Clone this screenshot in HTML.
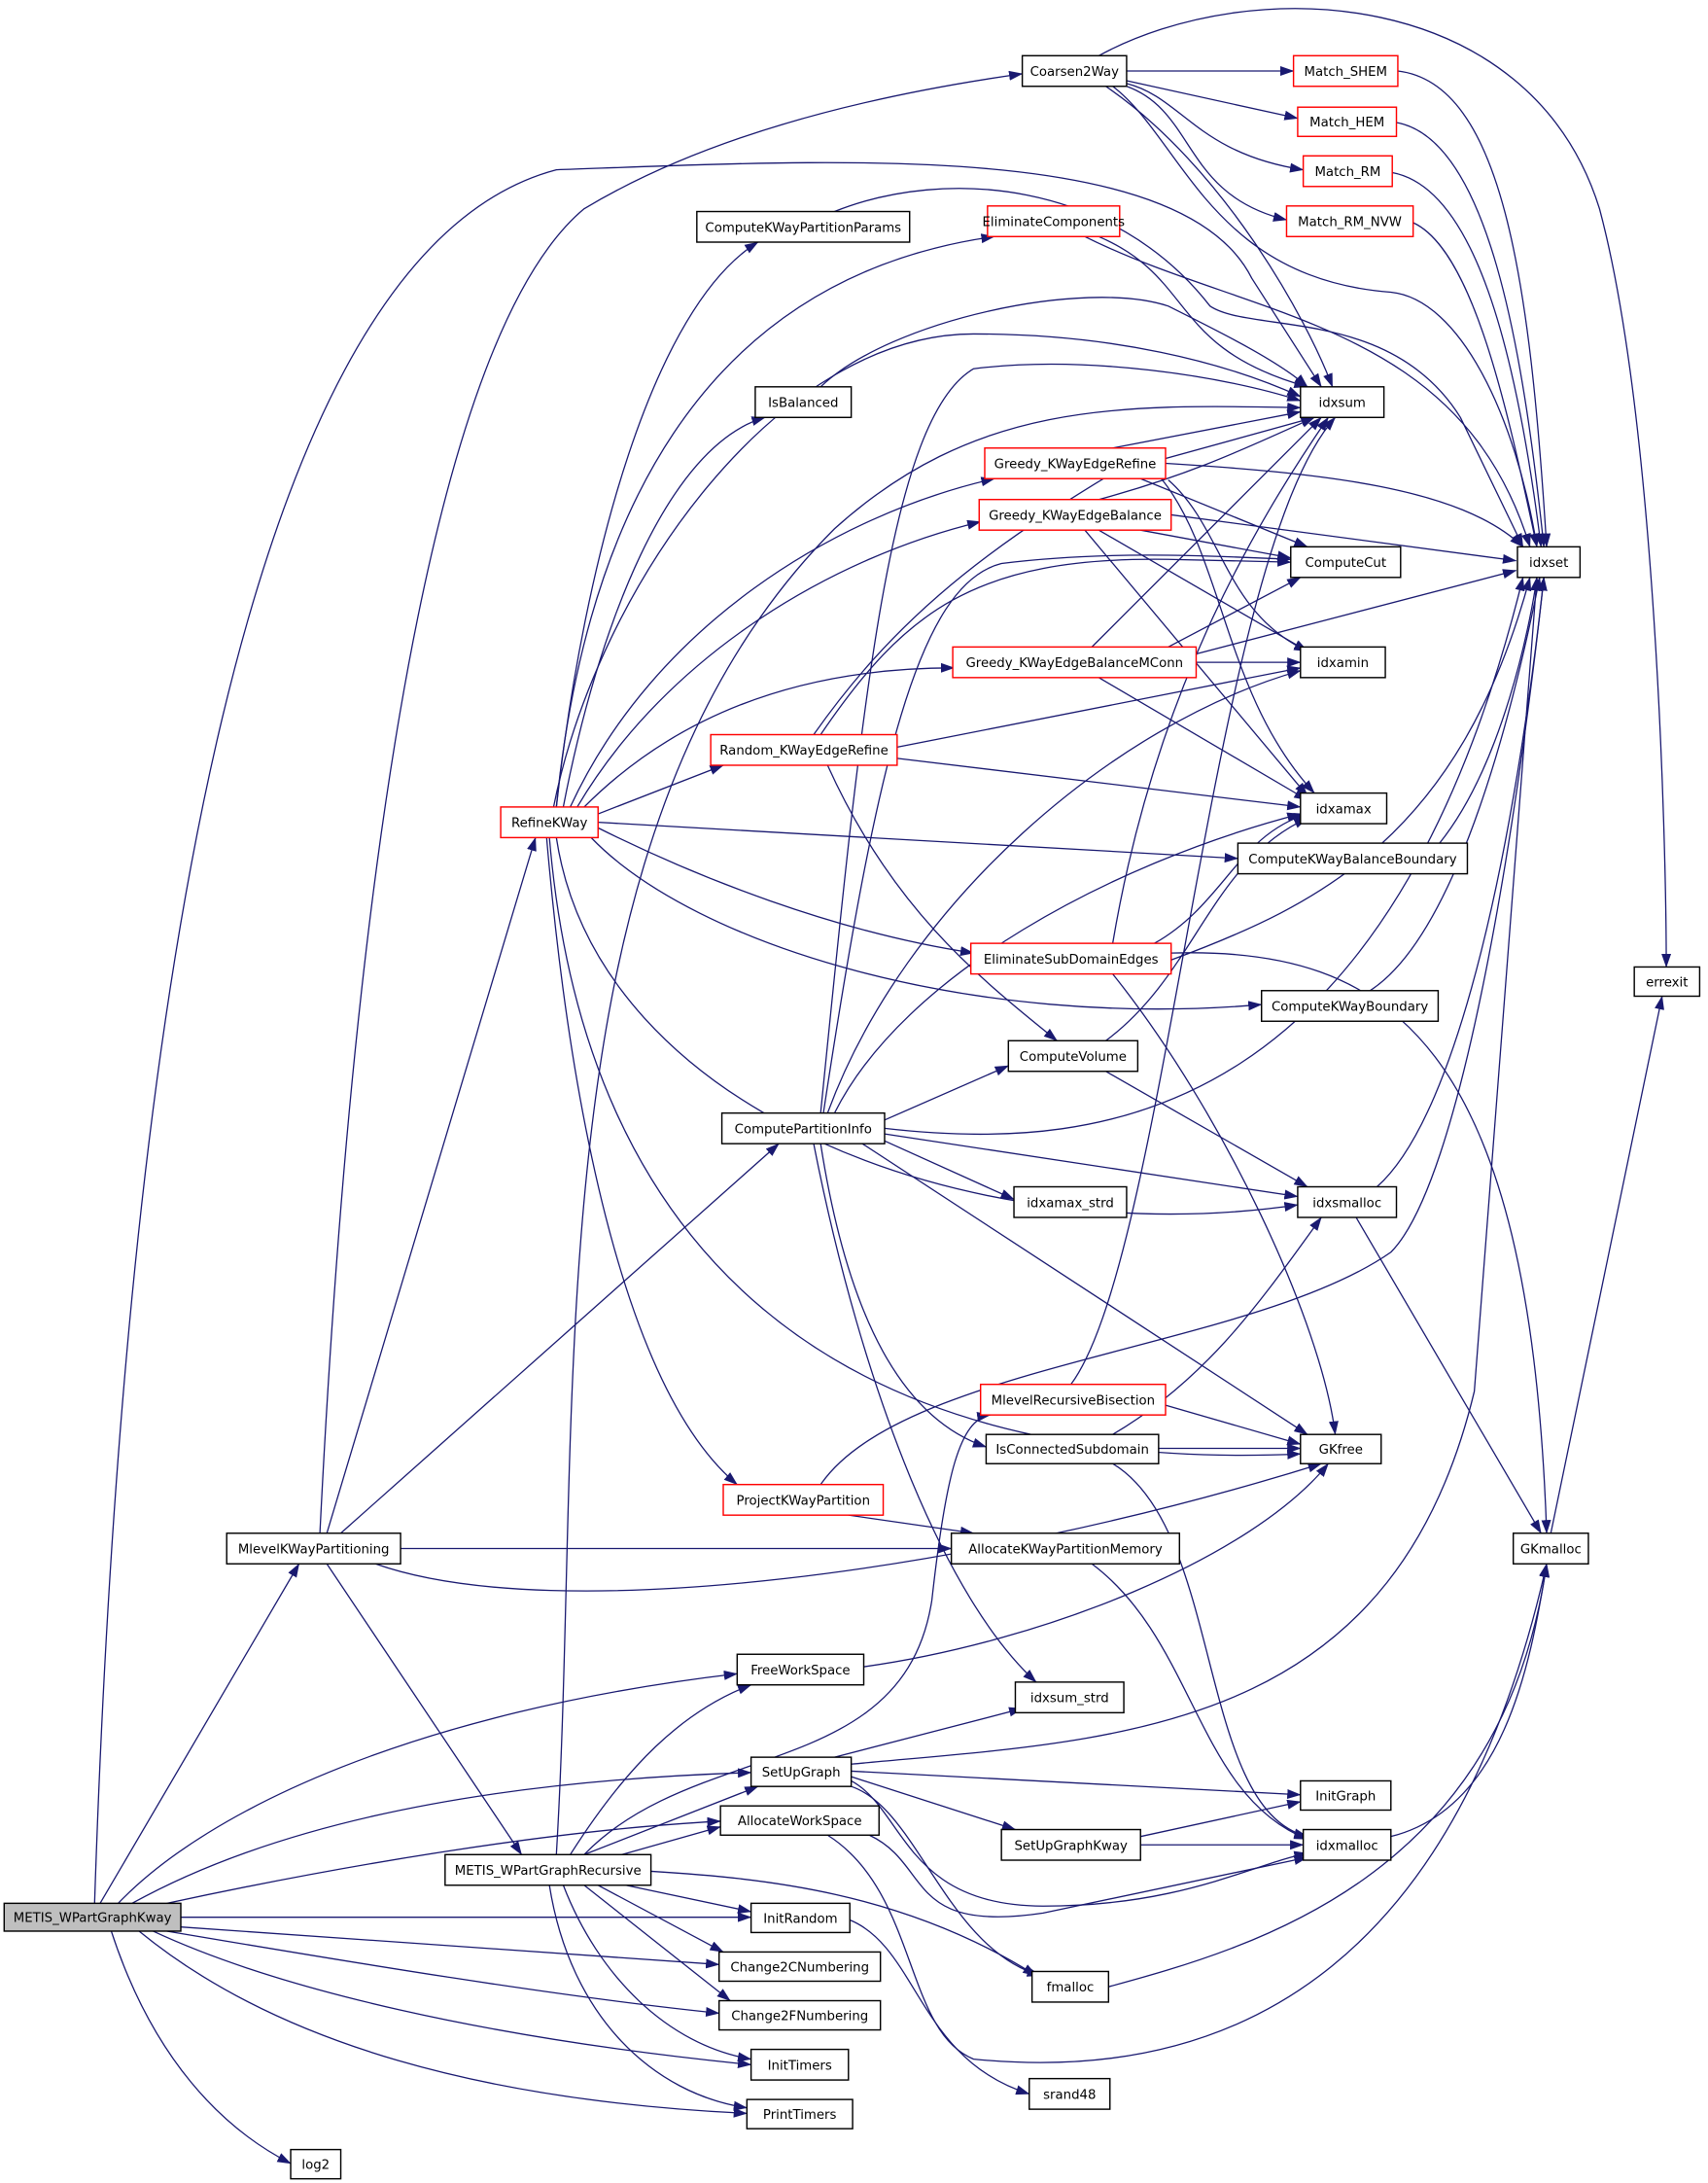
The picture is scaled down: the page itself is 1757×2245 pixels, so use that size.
<!DOCTYPE html>
<html><head><meta charset="utf-8"><style>
html,body{margin:0;padding:0;background:#fff;}
svg{display:block;}
text{font-family:"DejaVu Sans","Liberation Sans",sans-serif;font-size:9.3px;text-anchor:middle;fill:#000;}
.e{fill:none;stroke:#191970;stroke-width:0.9;marker-end:url(#a);}
.b{fill:#fff;stroke:#000;stroke-width:1;}
.r{fill:#fff;stroke:#ff0000;stroke-width:1;}
</style></head><body>
<svg width="1757" height="2245" viewBox="0 0 1228 1569" xmlns="http://www.w3.org/2000/svg">
<defs><marker id="a" markerUnits="userSpaceOnUse" markerWidth="10" markerHeight="8" refX="9.5" refY="3.5" orient="auto"><path d="M0,0 L10,3.5 L0,7 z" fill="#191970"/></marker></defs>
<g>
<path class="e" d="M68,1368 C90,700 180,180 400,122 C600,115 850,100 900,200 L950,278"/>
<path class="e" d="M230,1102 C250,700 300,250 420,150 C520,90 650,65 735,53"/>
<path class="e" d="M72,1368 L215,1124"/>
<path class="e" d="M85,1368 C150,1300 300,1230 530,1203"/>
<path class="e" d="M95,1368 C200,1310 350,1280 540,1274"/>
<path class="e" d="M120,1368 C250,1340 400,1315 518,1309"/>
<path class="e" d="M130,1378 L540,1378"/>
<path class="e" d="M130,1385 L517,1412"/>
<path class="e" d="M120,1388 C250,1410 400,1435 517,1447"/>
<path class="e" d="M110,1388 C200,1430 350,1465 540,1484"/>
<path class="e" d="M100,1388 C200,1470 350,1510 537,1519"/>
<path class="e" d="M80,1388 C110,1480 160,1530 209,1555"/>
<path class="e" d="M235,1102 L385,602"/>
<path class="e" d="M245,1102 L560,822"/>
<path class="e" d="M288,1113 L684,1113"/>
<path class="e" d="M270,1124 C400,1170 700,1130 950,1052"/>
<path class="e" d="M235,1124 L375,1333"/>
<path class="e" d="M400,580 C420,400 470,220 545,174"/>
<path class="e" d="M400,580 C420,380 500,200 715,170"/>
<path class="e" d="M405,580 C430,450 480,320 550,300"/>
<path class="e" d="M410,580 C470,450 600,370 715,344"/>
<path class="e" d="M415,580 C480,470 600,400 705,375"/>
<path class="e" d="M420,580 C500,500 600,480 686,480"/>
<path class="e" d="M430,585 L520,550"/>
<path class="e" d="M430,591 L890,617"/>
<path class="e" d="M430,595 C500,630 600,670 700,685"/>
<path class="e" d="M425,602 C500,680 700,740 907,722"/>
<path class="e" d="M400,602 C430,800 700,900 933,866"/>
<path class="e" d="M395,602 C420,900 600,1060 935,1045"/>
<path class="e" d="M393,602 C410,800 450,1000 530,1067"/>
<path class="e" d="M398,580 C430,420 560,240 700,240 C800,240 880,260 935,285"/>
<path class="e" d="M590,800 C620,500 640,300 700,265 C780,255 880,270 935,288"/>
<path class="e" d="M592,800 C630,550 660,420 720,405 C800,395 880,400 928,402"/>
<path class="e" d="M595,800 C650,650 800,520 935,482"/>
<path class="e" d="M600,800 C650,700 800,620 935,585"/>
<path class="e" d="M636,805 L725,766"/>
<path class="e" d="M636,811 C800,830 1000,800 1095,415"/>
<path class="e" d="M636,820 L729,862"/>
<path class="e" d="M636,815 L933,860"/>
<path class="e" d="M620,822 L940,1031"/>
<path class="e" d="M590,822 C610,950 650,1020 709,1040"/>
<path class="e" d="M585,822 C620,1000 680,1150 745,1209"/>
<path class="e" d="M400,1333 C420,1000 380,600 600,380 C700,290 800,290 935,293"/>
<path class="e" d="M420,1333 C500,1250 650,1280 670,1150 C680,1060 690,1020 712,1017"/>
<path class="e" d="M410,1333 C450,1270 490,1230 540,1211"/>
<path class="e" d="M420,1333 L545,1284"/>
<path class="e" d="M440,1335 L518,1313"/>
<path class="e" d="M450,1355 L540,1374"/>
<path class="e" d="M430,1355 L520,1403"/>
<path class="e" d="M420,1355 L525,1438"/>
<path class="e" d="M405,1355 C430,1420 480,1470 540,1480"/>
<path class="e" d="M395,1355 C410,1450 470,1505 537,1515"/>
<path class="e" d="M468,1345 C550,1350 650,1360 745,1420"/>
<path class="e" d="M810,51 L930,51"/>
<path class="e" d="M810,58 L933,85"/>
<path class="e" d="M810,60 C850,70 860,110 937,122"/>
<path class="e" d="M810,62 C860,80 850,140 925,158"/>
<path class="e" d="M795,62 C880,120 940,230 958,278"/>
<path class="e" d="M800,62 C850,100 870,200 1000,210 C1050,215 1090,300 1105,393"/>
<path class="e" d="M790,40 C900,-20 1100,-10 1150,150 C1190,300 1198,600 1198,695"/>
<path class="e" d="M1005,51 C1080,60 1100,200 1112,393"/>
<path class="e" d="M1004,88 C1070,100 1095,250 1110,393"/>
<path class="e" d="M1001,124 C1060,135 1090,250 1108,393"/>
<path class="e" d="M1016,160 C1060,180 1085,300 1105,393"/>
<path class="e" d="M600,152 C680,120 800,130 870,220 C900,240 1000,220 1050,300 L1095,393"/>
<path class="e" d="M790,170 C860,200 840,250 940,278"/>
<path class="e" d="M780,170 C900,230 1050,230 1100,393"/>
<path class="e" d="M590,278 C640,230 780,200 840,220 C880,240 920,260 940,278"/>
<path class="e" d="M800,322 L935,296"/>
<path class="e" d="M838,333 C950,340 1050,350 1095,393"/>
<path class="e" d="M820,344 L940,393"/>
<path class="e" d="M840,345 C880,380 880,440 940,468"/>
<path class="e" d="M835,344 C880,400 880,500 945,570"/>
<path class="e" d="M790,359 C860,340 900,320 945,300"/>
<path class="e" d="M842,370 L1090,403"/>
<path class="e" d="M820,381 L928,401"/>
<path class="e" d="M790,381 L940,468"/>
<path class="e" d="M780,381 L940,572"/>
<path class="e" d="M785,465 L950,300"/>
<path class="e" d="M860,470 L1090,410"/>
<path class="e" d="M840,465 L935,415"/>
<path class="e" d="M860,476 L935,476"/>
<path class="e" d="M790,487 L940,575"/>
<path class="e" d="M585,528 C640,450 700,400 800,340 L945,300"/>
<path class="e" d="M590,528 C650,440 700,400 840,402 L928,404"/>
<path class="e" d="M645,537 L935,480"/>
<path class="e" d="M645,545 L935,580"/>
<path class="e" d="M595,550 C640,650 700,700 760,748"/>
<path class="e" d="M1035,606 C1080,550 1100,450 1105,415"/>
<path class="e" d="M800,678 C830,500 900,380 955,300"/>
<path class="e" d="M842,690 C950,650 1050,600 1100,415"/>
<path class="e" d="M830,678 C880,650 890,600 940,585"/>
<path class="e" d="M800,700 C880,800 950,950 960,1031"/>
<path class="e" d="M842,685 C1000,680 1100,750 1112,1102"/>
<path class="e" d="M985,712 C1050,670 1090,500 1107,415"/>
<path class="e" d="M795,748 C860,700 870,620 940,588"/>
<path class="e" d="M795,770 L940,853"/>
<path class="e" d="M990,853 C1050,800 1090,600 1110,415"/>
<path class="e" d="M975,875 L1108,1102"/>
<path class="e" d="M770,995 C840,900 870,400 960,300"/>
<path class="e" d="M838,1010 L935,1038"/>
<path class="e" d="M800,1031 C870,990 910,930 950,875"/>
<path class="e" d="M833,1041 L935,1041"/>
<path class="e" d="M800,1052 C880,1100 860,1300 940,1320"/>
<path class="e" d="M590,1067 C650,980 900,970 1000,900 C1050,850 1090,600 1110,415"/>
<path class="e" d="M610,1089 L700,1102"/>
<path class="e" d="M785,1124 C860,1180 860,1290 940,1322"/>
<path class="e" d="M1115,1102 L1195,716"/>
<path class="e" d="M621,1198 C750,1180 900,1120 955,1052"/>
<path class="e" d="M600,1263 L735,1228"/>
<path class="e" d="M612,1268 C800,1250 1000,1250 1060,1000 L1105,415"/>
<path class="e" d="M612,1273 L935,1290"/>
<path class="e" d="M612,1277 L730,1315"/>
<path class="e" d="M612,1280 C650,1300 650,1370 750,1370 C850,1370 900,1340 940,1332"/>
<path class="e" d="M612,1284 C660,1300 680,1400 748,1420"/>
<path class="e" d="M625,1319 C670,1340 650,1390 750,1375 L940,1335"/>
<path class="e" d="M595,1319 C660,1360 650,1460 700,1480 C900,1500 1050,1400 1112,1124"/>
<path class="e" d="M820,1320 L935,1295"/>
<path class="e" d="M820,1326 L937,1326"/>
<path class="e" d="M1000,1320 C1080,1300 1100,1200 1112,1124"/>
<path class="e" d="M611,1380 C660,1400 660,1480 740,1505"/>
<path class="e" d="M797,1428 C900,1400 1080,1350 1112,1124"/>
</g>
<g>
<rect x="3" y="1368" width="127" height="20" fill="#bfbfbf" stroke="#000"/><text x="66.5" y="1381.5">METIS_WPartGraphKway</text>
<rect class="b" x="735" y="40" width="75" height="22"/><text x="772.5" y="54.5">Coarsen2Way</text>
<rect class="r" x="930" y="40" width="75" height="22"/><text x="967.5" y="54.5">Match_SHEM</text>
<rect class="r" x="933" y="77" width="71" height="21"/><text x="968.5" y="91">Match_HEM</text>
<rect class="r" x="937" y="112" width="64" height="22"/><text x="969" y="126.5">Match_RM</text>
<rect class="r" x="925" y="148" width="91" height="22"/><text x="970.5" y="162.5">Match_RM_NVW</text>
<rect class="b" x="501" y="152" width="153" height="22"/><text x="577.5" y="166.5">ComputeKWayPartitionParams</text>
<rect class="r" x="710" y="148" width="95" height="22"/><text x="757.5" y="162.5">EliminateComponents</text>
<rect class="b" x="935" y="278" width="60" height="22"/><text x="965" y="292.5">idxsum</text>
<rect class="b" x="543" y="278" width="69" height="22"/><text x="577.5" y="292.5">IsBalanced</text>
<rect class="r" x="708" y="322" width="130" height="22"/><text x="773" y="336.5">Greedy_KWayEdgeRefine</text>
<rect class="r" x="704" y="359" width="138" height="22"/><text x="773" y="373.5">Greedy_KWayEdgeBalance</text>
<rect class="b" x="1091" y="393" width="45" height="22"/><text x="1113.5" y="407.5">idxset</text>
<rect class="b" x="928" y="393" width="79" height="22"/><text x="967.5" y="407.5">ComputeCut</text>
<rect class="r" x="685" y="465" width="175" height="22"/><text x="772.5" y="479.5">Greedy_KWayEdgeBalanceMConn</text>
<rect class="b" x="935" y="465" width="61" height="22"/><text x="965.5" y="479.5">idxamin</text>
<rect class="r" x="511" y="528" width="134" height="22"/><text x="578" y="542.5">Random_KWayEdgeRefine</text>
<rect class="r" x="360" y="580" width="70" height="22"/><text x="395" y="594.5">RefineKWay</text>
<rect class="b" x="935" y="570" width="62" height="22"/><text x="966" y="584.5">idxamax</text>
<rect class="b" x="890" y="606" width="165" height="22"/><text x="972.5" y="620.5">ComputeKWayBalanceBoundary</text>
<rect class="r" x="698" y="678" width="144" height="22"/><text x="770" y="692.5">EliminateSubDomainEdges</text>
<rect class="b" x="1175" y="695" width="47" height="21"/><text x="1198.5" y="709">errexit</text>
<rect class="b" x="907" y="712" width="127" height="22"/><text x="970.5" y="726.5">ComputeKWayBoundary</text>
<rect class="b" x="725" y="748" width="93" height="22"/><text x="771.5" y="762.5">ComputeVolume</text>
<rect class="b" x="519" y="800" width="117" height="22"/><text x="577.5" y="814.5">ComputePartitionInfo</text>
<rect class="b" x="729" y="853" width="81" height="22"/><text x="769.5" y="867.5">idxamax_strd</text>
<rect class="b" x="933" y="853" width="71" height="22"/><text x="968.5" y="867.5">idxsmalloc</text>
<rect class="r" x="705" y="995" width="133" height="22"/><text x="771.5" y="1009.5">MlevelRecursiveBisection</text>
<rect class="b" x="709" y="1031" width="124" height="21"/><text x="771" y="1045">IsConnectedSubdomain</text>
<rect class="b" x="935" y="1031" width="58" height="21"/><text x="964" y="1045">GKfree</text>
<rect class="r" x="520" y="1067" width="115" height="22"/><text x="577.5" y="1081.5">ProjectKWayPartition</text>
<rect class="b" x="163" y="1102" width="125" height="22"/><text x="225.5" y="1116.5">MlevelKWayPartitioning</text>
<rect class="b" x="684" y="1102" width="164" height="22"/><text x="766" y="1116.5">AllocateKWayPartitionMemory</text>
<rect class="b" x="1088" y="1102" width="54" height="22"/><text x="1115" y="1116.5">GKmalloc</text>
<rect class="b" x="530" y="1189" width="91" height="22"/><text x="575.5" y="1203.5">FreeWorkSpace</text>
<rect class="b" x="730" y="1209" width="78" height="22"/><text x="769" y="1223.5">idxsum_strd</text>
<rect class="b" x="540" y="1263" width="72" height="21"/><text x="576" y="1277">SetUpGraph</text>
<rect class="b" x="935" y="1280" width="65" height="21"/><text x="967.5" y="1294">InitGraph</text>
<rect class="b" x="518" y="1298" width="114" height="21"/><text x="575" y="1312">AllocateWorkSpace</text>
<rect class="b" x="320" y="1333" width="148" height="22"/><text x="394" y="1347.5">METIS_WPartGraphRecursive</text>
<rect class="b" x="720" y="1315" width="100" height="22"/><text x="770" y="1329.5">SetUpGraphKway</text>
<rect class="b" x="937" y="1315" width="63" height="22"/><text x="968.5" y="1329.5">idxmalloc</text>
<rect class="b" x="540" y="1368" width="71" height="21"/><text x="575.5" y="1382">InitRandom</text>
<rect class="b" x="517" y="1403" width="116" height="21"/><text x="575" y="1417">Change2CNumbering</text>
<rect class="b" x="742" y="1417" width="55" height="22"/><text x="769.5" y="1431.5">fmalloc</text>
<rect class="b" x="517" y="1438" width="116" height="21"/><text x="575" y="1452">Change2FNumbering</text>
<rect class="b" x="540" y="1473" width="70" height="22"/><text x="575" y="1487.5">InitTimers</text>
<rect class="b" x="740" y="1494" width="58" height="22"/><text x="769" y="1508.5">srand48</text>
<rect class="b" x="537" y="1509" width="76" height="21"/><text x="575" y="1523">PrintTimers</text>
<rect class="b" x="209" y="1545" width="36" height="21"/><text x="227" y="1559">log2</text>
</g>
</svg>
</body></html>
